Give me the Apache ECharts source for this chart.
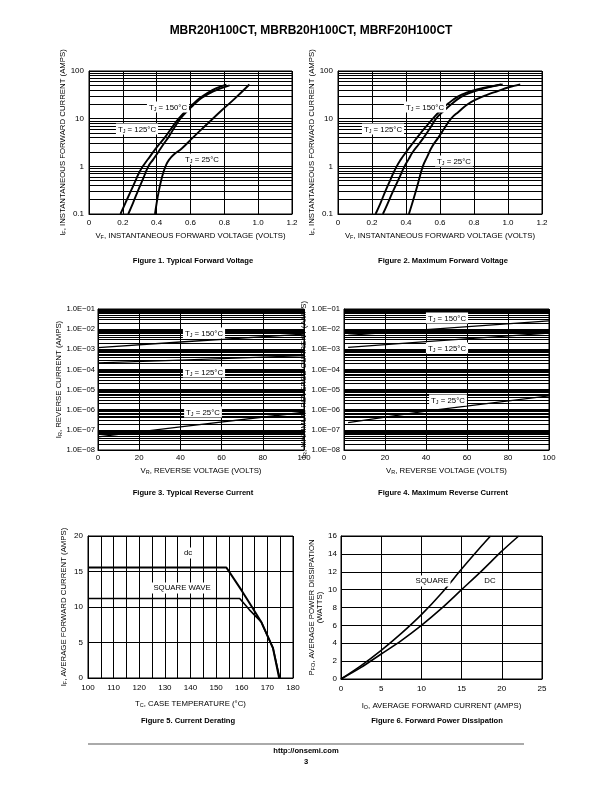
<!DOCTYPE html>
<html><head><meta charset="utf-8">
<script src="https://cdn.jsdelivr.net/npm/echarts@6/dist/echarts.min.js"></script>
<style>html,body{margin:0;padding:0;background:#fff}#c{width:612px;height:792px}</style>
</head><body><div id="c"></div>
<script>
// ---------- Data ----------
// Figure 1 (typical forward voltage): VF (V) vs IF (A)
const f1V150 = [0.186,0.215,0.245,0.275,0.30,0.33,0.36,0.40,0.452,0.49,0.53,0.575,0.617,0.655,0.695,0.75,0.812];
const f1I150 = [0.1,0.17,0.29,0.5,0.78,1.15,1.6,2.5,4.2,6.5,10,15,20.7,27,33.6,43,52];
const f1V125 = [0.232,0.26,0.29,0.32,0.351,0.38,0.41,0.44,0.472,0.505,0.54,0.585,0.627,0.665,0.709,0.77,0.831];
const f1I125 = [0.1,0.17,0.31,0.55,1.0,1.4,2.0,2.9,4.2,6.5,10,15,20.7,27,33.6,42,50];
const f1V25  = [0.39,0.40,0.41,0.425,0.44,0.455,0.472,0.50,0.55,0.62,0.70,0.78,0.86,0.948];
const f1I25  = [0.1,0.17,0.27,0.48,0.75,1.05,1.35,1.75,2.4,4.2,7.8,14.5,26,52];
// Figure 2 (maximum forward voltage)
const f2V150 = [0.221,0.25,0.28,0.31,0.342,0.37,0.401,0.435,0.47,0.51,0.558,0.60,0.65,0.705,0.76,0.83,0.90,0.959];
const f2I150 = [0.1,0.17,0.31,0.54,0.95,1.4,2.0,2.9,4.2,6.3,10,14.5,21,29,35.5,42,47.5,52];
const f2V125 = [0.264,0.29,0.32,0.355,0.391,0.415,0.44,0.475,0.51,0.545,0.577,0.62,0.67,0.72,0.78,0.85,0.91,0.969];
const f2I125 = [0.1,0.16,0.28,0.52,1.0,1.4,2.0,2.9,4.3,6.6,10,14.3,20.5,28,35,42,47.5,52];
const f2V25  = [0.417,0.435,0.455,0.475,0.499,0.525,0.554,0.59,0.625,0.665,0.71,0.763,0.82,0.88,0.94,1.0,1.072];
const f2I25  = [0.1,0.16,0.28,0.5,1.0,1.6,2.6,4.0,6.2,10,14,20,26,32,38,45,52];
// Figure 3 (typical reverse current): VR (V) vs IR (A)
const f3VR150 = [0,40,100], f3IR150 = [1.2e-3,2.3e-3,5.7e-3];
const f3VR125 = [0,40,100], f3IR125 = [2.1e-4,2.9e-4,4.8e-4];
const f3VR25  = [0,40,100], f3IR25  = [4.5e-8,1.4e-7,7.5e-7];
// Figure 4 (maximum reverse current)
const f4VR150 = [2,40,100], f4IR150 = [4.9e-3,9.5e-3,2.6e-2];
const f4VR125 = [2,40,100], f4IR125 = [1.24e-3,2.4e-3,6.4e-3];
const f4VR25  = [2,40,100], f4IR25  = [2.3e-7,8.5e-7,4.9e-6];
// Figure 5 (current derating): TC (°C) vs IF(AV) (A)
const f5TdcT = [100,154,160,164,167.6,172.2,174.6];
const f5TdcI = [15.56,15.56,12.3,10.0,7.9,4.2,0];
const f5SqT  = [100,159.2,163,167.6,172.2,174.8];
const f5SqI  = [11.2,11.2,9.6,7.9,4.2,0];
// Figure 6 (forward power dissipation): IO (A) vs PFO (W)
const f6SqIo = [0,2.5,5,7.5,10,12.5,15,17.5,18.6];
const f6SqP  = [0,1.5,3.2,5.1,7.2,9.6,12.3,14.9,16];
const f6DcIo = [0,2.5,5,7.5,10,12.5,15,17.5,20,22.1];
const f6DcP  = [0,1.3,2.8,4.3,6.0,7.9,10.0,12.1,14.3,16];
// Tick labels
const vfTicks = ['0','0.2','0.4','0.6','0.8','1.0','1.2'];
const ifTicks = ['0.1','1','10','100'];
const irTicks = ['1.0E\u221208','1.0E\u221207','1.0E\u221206','1.0E\u221205','1.0E\u221204','1.0E\u221203','1.0E\u221202','1.0E\u221201'];
const logMinor = [2,3,4,5,6,7,8,9];
const tjNames = ['150','125','25'];

// ---------- Helpers ----------
const FONT = 'Liberation Sans, Arial, Helvetica, sans-serif';
const pairs = (xs, ys) => xs.map((x, i) => [x, ys[i]]);
function minorVals(lo, hi) {
  const out = [];
  for (let e = lo; e < hi; e++) for (const k of logMinor) out.push(k * Math.pow(10, e));
  return out;
}
const rich = (fs) => ({
  a: {fontFamily: FONT, fontSize: fs, color: '#000'},
  s: {fontFamily: FONT, fontSize: fs * 0.7, color: '#000', padding: [3, 0, 0, 0]}
});
const BLACK = {color: '#000', width: 1};
function xAx(gi, o) {
  return Object.assign({
    gridIndex: gi, type: 'value',
    axisLine: {show: true, onZero: false, lineStyle: BLACK},
    axisTick: {show: false},
    splitLine: {show: true, lineStyle: BLACK},
    nameLocation: 'middle',
    nameTextStyle: {rich: rich(7.8)}
  }, o);
}
function yAx(gi, o) {
  return Object.assign({
    gridIndex: gi, type: 'value',
    axisLine: {show: true, onZero: false, lineStyle: BLACK},
    axisTick: {show: false},
    splitLine: {show: true, lineStyle: BLACK},
    nameLocation: 'middle',
    nameTextStyle: {rich: rich(7.8), align: 'center'}
  }, o);
}
function line(gi, data, extra) {
  return Object.assign({
    type: 'line', xAxisIndex: gi, yAxisIndex: gi, data, z: 5,
    showSymbol: false, symbol: 'none', silent: true,
    smooth: 0.5,
    lineStyle: {color: '#000', width: 1.9}
  }, extra || {});
}
// minor log grid lines, drawn through the axes' own scales
function minorGrid(gi, xmin, xmax, vals) {
  return {
    type: 'lines', coordinateSystem: 'cartesian2d', xAxisIndex: gi, yAxisIndex: gi, z: 1,
    silent: true, polyline: false,
    lineStyle: {color: '#000', width: 1, opacity: 1, curveness: 0},
    data: vals.map(v => ({coords: [[xmin, v], [xmax, v]]}))
  };
}
function tag(x, y, tj) {
  return {type: 'text', x, y, z: 100,
    style: {text: `{a|T}{s|J}{a| = ${tj}\u00B0C}`, rich: rich(7.8), align: 'center', verticalAlign: 'middle',
      backgroundColor: '#fff', padding: [2, 2, 1, 2]}};
}
function plain(x, y, text, fs, bold, bg) {
  return {type: 'text', x, y, z: 100,
    style: {text, fontFamily: FONT, fontSize: fs, fontWeight: bold ? 'bold' : 'normal', fill: '#000',
      align: 'center', verticalAlign: 'middle', backgroundColor: bg ? '#fff' : 'transparent', padding: bg ? [2, 2, 1, 2] : 0}};
}

const lbl = (fs, margin, fmt) => ({color: '#000', fontFamily: FONT, fontSize: fs, margin, formatter: fmt});
const vfFmt = v => vfTicks[Math.round(v / 0.2)];
const ifFmt = v => ifTicks[Math.round(Math.log10(v)) + 1];
const irFmt = v => irTicks[Math.round(Math.log10(v)) + 8];

const grids = [
  {left: 89, top: 71, width: 203, height: 143},
  {left: 338, top: 71, width: 204, height: 143},
  {left: 98, top: 309, width: 206, height: 141},
  {left: 344, top: 309, width: 205, height: 141},
  {left: 88, top: 536, width: 205, height: 142},
  {left: 341, top: 536, width: 201, height: 143}
].map(g => Object.assign({show: true, borderColor: '#000', borderWidth: 1, backgroundColor: 'transparent'}, g));

const xAxis = [
  xAx(0, {min: 0, max: 1.2, interval: 0.2, axisLabel: lbl(8, 5, vfFmt), name: '{a|V}{s|F}{a|, INSTANTANEOUS FORWARD VOLTAGE (VOLTS)}', nameGap: 18}),
  xAx(1, {min: 0, max: 1.2, interval: 0.2, axisLabel: lbl(8, 5, vfFmt), name: '{a|V}{s|F}{a|, INSTANTANEOUS FORWARD VOLTAGE (VOLTS)}', nameGap: 18}),
  xAx(2, {min: 0, max: 100, interval: 20, axisLabel: lbl(7.8, 4), name: '{a|V}{s|R}{a|, REVERSE VOLTAGE (VOLTS)}', nameGap: 17}),
  xAx(3, {min: 0, max: 100, interval: 20, axisLabel: lbl(7.8, 4), name: '{a|V}{s|R}{a|, REVERSE VOLTAGE (VOLTS)}', nameGap: 17}),
  xAx(4, {min: 100, max: 180, interval: 10, axisLabel: lbl(8, 6),
    minorTick: {show: false, splitNumber: 2}, minorSplitLine: {show: true, lineStyle: BLACK},
    name: '{a|T}{s|C}{a|, CASE TEMPERATURE (\u00B0C)}', nameGap: 22}),
  xAx(5, {min: 0, max: 25, interval: 5, axisLabel: lbl(8, 6), name: '{a|I}{s|O}{a|, AVERAGE FORWARD CURRENT (AMPS)}', nameGap: 23})
];
const yAxis = [
  yAx(0, {type: 'log', logBase: 10, min: 0.1, max: 100, splitNumber: 3, axisLabel: lbl(8, 5, ifFmt), name: '{a|I}{s|F}{a|, INSTANTANEOUS FORWARD CURRENT (AMPS)}', nameGap: 20}),
  yAx(1, {type: 'log', logBase: 10, min: 0.1, max: 100, splitNumber: 3, axisLabel: lbl(8, 5, ifFmt), name: '{a|I}{s|F}{a|, INSTANTANEOUS FORWARD CURRENT (AMPS)}', nameGap: 22}),
  yAx(2, {type: 'log', logBase: 10, min: 1e-8, max: 1e-1, splitNumber: 7, axisLabel: lbl(7.6, 3, irFmt), name: '{a|I}{s|R}{a|, REVERSE CURRENT (AMPS)}', nameGap: 29}),
  yAx(3, {type: 'log', logBase: 10, min: 1e-8, max: 1e-1, splitNumber: 7, axisLabel: lbl(7.6, 4, irFmt), name: '{a|I}{s|R}{a|, MAXIMUM REVERSE CURRENT (AMPS)}', nameGap: 28}),
  yAx(4, {min: 0, max: 20, interval: 5, axisLabel: lbl(8, 5), name: '{a|I}{s|F}{a|, AVERAGE FORWARD CURRENT (AMPS)}', nameGap: 20}),
  yAx(5, {min: 0, max: 16, interval: 2, axisLabel: lbl(8, 4), name: '{a|P}{s|FO}{a|, AVERAGE POWER DISSIPATION}\n{a|(WATTS)}', nameGap: 16})
];

const thin = {smooth: false, lineStyle: {color: '#000', width: 1.3}};
const series = [
  minorGrid(0, 0, 1.2, minorVals(-1, 2)),
  minorGrid(1, 0, 1.2, minorVals(-1, 2)),
  minorGrid(2, 0, 100, minorVals(-8, -1)),
  minorGrid(3, 0, 100, minorVals(-8, -1)),
  line(0, pairs(f1V150, f1I150)),
  line(0, pairs(f1V125, f1I125)),
  line(0, pairs(f1V25, f1I25)),
  line(1, pairs(f2V150, f2I150)),
  line(1, pairs(f2V125, f2I125)),
  line(1, pairs(f2V25, f2I25)),
  line(2, pairs(f3VR150, f3IR150), thin),
  line(2, pairs(f3VR125, f3IR125), thin),
  line(2, pairs(f3VR25, f3IR25), thin),
  line(3, pairs(f4VR150, f4IR150), thin),
  line(3, pairs(f4VR125, f4IR125), thin),
  line(3, pairs(f4VR25, f4IR25), thin),
  line(4, pairs(f5TdcT, f5TdcI), {smooth: false, lineStyle: {color: '#000', width: 2}}),
  line(4, pairs(f5SqT, f5SqI), {smooth: false, lineStyle: {color: '#000', width: 1.6}}),
  line(5, pairs(f6SqIo, f6SqP), {smooth: 0.3, lineStyle: {color: '#000', width: 1.6}}),
  line(5, pairs(f6DcIo, f6DcP), {smooth: 0.3, lineStyle: {color: '#000', width: 1.6}})
];

const graphic = [
  plain(311, 31, 'MBR20H100CT, MBRB20H100CT, MBRF20H100CT', 12, true),
  tag(168, 107, tjNames[0]), tag(137, 129, tjNames[1]), tag(202, 159, tjNames[2]),
  tag(425, 107, tjNames[0]), tag(383, 129, tjNames[1]), tag(454, 161, tjNames[2]),
  tag(204, 333, tjNames[0]), tag(204, 372, tjNames[1]), tag(203, 412, tjNames[2]),
  tag(447, 318, tjNames[0]), tag(447, 348, tjNames[1]), tag(448, 400, tjNames[2]),
  plain(188, 553, 'dc', 7.8, false, true),
  plain(182, 588, 'SQUARE WAVE', 7.8, false, true),
  plain(432, 581, 'SQUARE', 7.8, false, true),
  plain(490, 581, 'DC', 7.8, false, true),
  plain(193, 261, 'Figure 1. Typical Forward Voltage', 7.6, true),
  plain(443, 261, 'Figure 2. Maximum Forward Voltage', 7.6, true),
  plain(193, 493, 'Figure 3. Typical Reverse Current', 7.6, true),
  plain(443, 493, 'Figure 4. Maximum Reverse Current', 7.6, true),
  plain(188, 721, 'Figure 5. Current Derating', 7.6, true),
  plain(437, 721, 'Figure 6. Forward Power Dissipation', 7.6, true),
  {type: 'line', z: 100, shape: {x1: 88, y1: 744, x2: 524, y2: 744}, style: {stroke: '#aaa', lineWidth: 2}},
  plain(306, 751, 'http://onsemi.com', 7.6, true),
  plain(306, 762, '3', 7.6, true)
];

const chart = echarts.init(document.getElementById('c'), null, {renderer: 'canvas'});
chart.setOption({animation: false, backgroundColor: '#fff', grid: grids, xAxis, yAxis, series, graphic});
</script></body></html>
